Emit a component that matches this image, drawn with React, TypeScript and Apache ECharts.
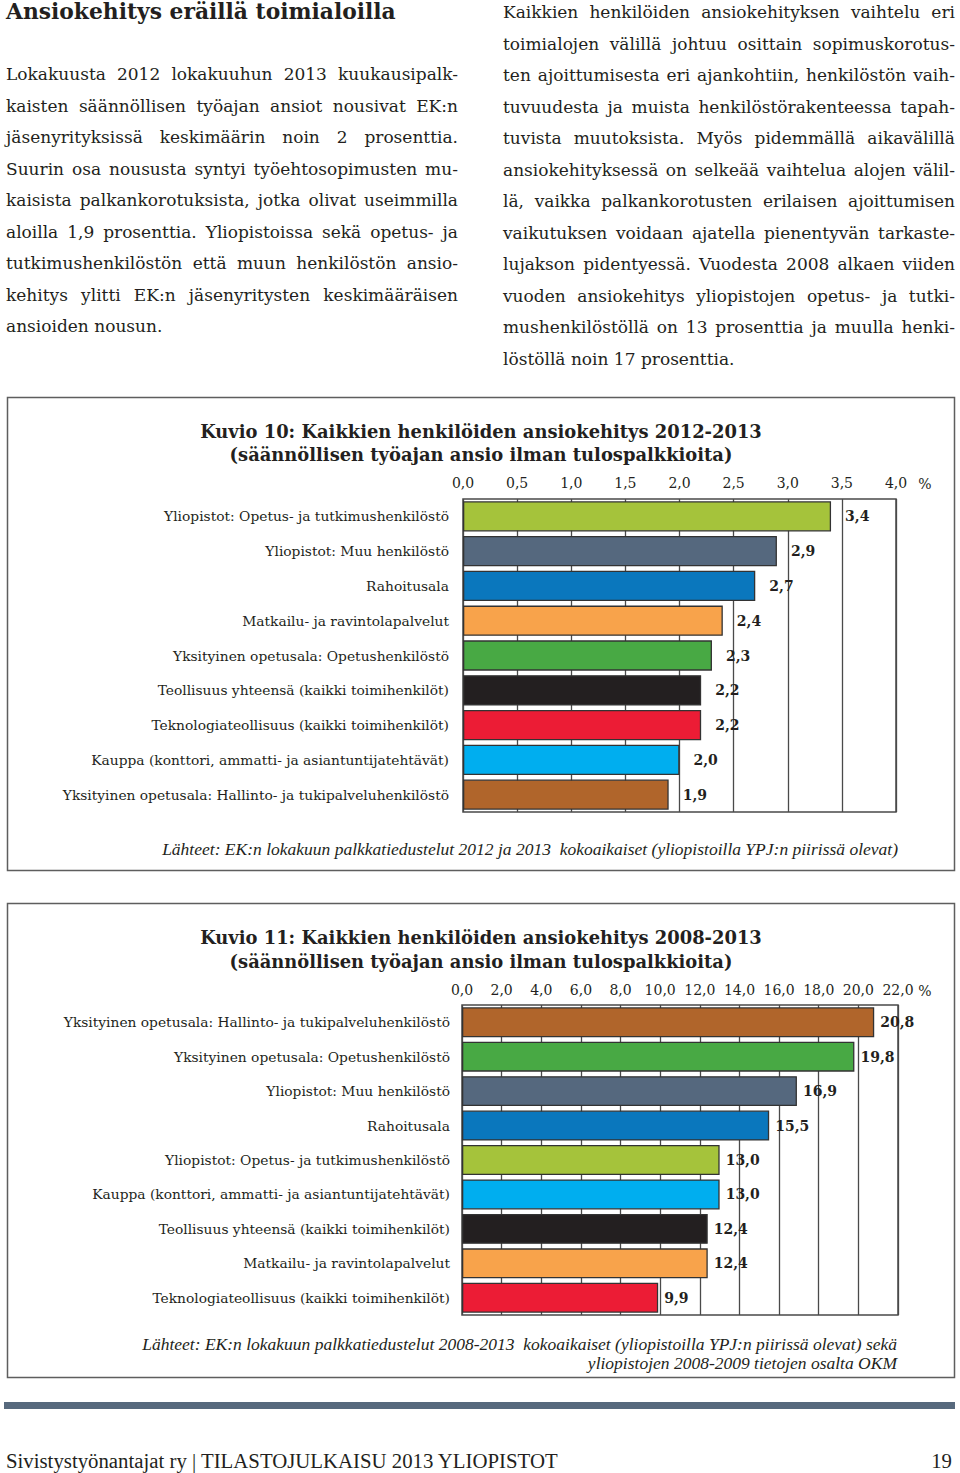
import React, { useEffect, useRef } from "react";
import * as echarts from "echarts";

const heading = "Ansiokehitys eräillä toimialoilla";

const leftLines = [
  "Lokakuusta 2012 lokakuuhun 2013 kuukausipalk-",
  "kaisten säännöllisen työajan ansiot nousivat EK:n",
  "jäsenyrityksissä keskimäärin noin 2 prosenttia.",
  "Suurin osa noususta syntyi työehtosopimusten mu-",
  "kaisista palkankorotuksista, jotka olivat useimmilla",
  "aloilla 1,9 prosenttia. Yliopistoissa sekä opetus- ja",
  "tutkimushenkilöstön että muun henkilöstön ansio-",
  "kehitys ylitti EK:n jäsenyritysten keskimääräisen",
  "ansioiden nousun.",
];

const rightLines = [
  "Kaikkien henkilöiden ansiokehityksen vaihtelu eri",
  "toimialojen välillä johtuu osittain sopimuskorotus-",
  "ten ajoittumisesta eri ajankohtiin, henkilöstön vaih-",
  "tuvuudesta ja muista henkilöstörakenteessa tapah-",
  "tuvista muutoksista. Myös pidemmällä aikavälillä",
  "ansiokehityksessä on selkeää vaihtelua alojen välil-",
  "lä, vaikka palkankorotusten erilaisen ajoittumisen",
  "vaikutuksen voidaan ajatella pienentyvän tarkaste-",
  "lujakson pidentyessä. Vuodesta 2008 alkaen viiden",
  "vuoden ansiokehitys yliopistojen opetus- ja tutki-",
  "mushenkilöstöllä on 13 prosenttia ja muulla henki-",
  "löstöllä noin 17 prosenttia.",
];

const COLORS = {
  yellowGreen: "#a5c33b",
  slate: "#55687e",
  blue: "#0a77bd",
  orange: "#f8a34b",
  green: "#48a944",
  black: "#231f20",
  red: "#ec1c35",
  cyan: "#00aeef",
  brown: "#b0652b",
};

const chart1Title = [
  "Kuvio 10: Kaikkien henkilöiden ansiokehitys 2012-2013",
  "(säännöllisen työajan ansio ilman tulospalkkioita)",
];
const chart1Categories = [
  "Yliopistot: Opetus- ja tutkimushenkilöstö",
  "Yliopistot: Muu henkilöstö",
  "Rahoitusala",
  "Matkailu- ja ravintolapalvelut",
  "Yksityinen opetusala: Opetushenkilöstö",
  "Teollisuus yhteensä (kaikki toimihenkilöt)",
  "Teknologiateollisuus (kaikki toimihenkilöt)",
  "Kauppa (konttori, ammatti- ja asiantuntijatehtävät)",
  "Yksityinen opetusala: Hallinto- ja tukipalveluhenkilöstö",
];
const chart1Values = [3.4, 2.9, 2.7, 2.4, 2.3, 2.2, 2.2, 2.0, 1.9];
const chart1Colors = [
  COLORS.yellowGreen,
  COLORS.slate,
  COLORS.blue,
  COLORS.orange,
  COLORS.green,
  COLORS.black,
  COLORS.red,
  COLORS.cyan,
  COLORS.brown,
];
const chart1AxisMax = 4;
const chart1AxisStep = 0.5;
const chart1Source = [
  "Lähteet: EK:n lokakuun palkkatiedustelut 2012 ja 2013  kokoaikaiset (yliopistoilla YPJ:n piirissä olevat)",
];

const chart2Title = [
  "Kuvio 11: Kaikkien henkilöiden ansiokehitys 2008-2013",
  "(säännöllisen työajan ansio ilman tulospalkkioita)",
];
const chart2Categories = [
  "Yksityinen opetusala: Hallinto- ja tukipalveluhenkilöstö",
  "Yksityinen opetusala: Opetushenkilöstö",
  "Yliopistot: Muu henkilöstö",
  "Rahoitusala",
  "Yliopistot: Opetus- ja tutkimushenkilöstö",
  "Kauppa (konttori, ammatti- ja asiantuntijatehtävät)",
  "Teollisuus yhteensä (kaikki toimihenkilöt)",
  "Matkailu- ja ravintolapalvelut",
  "Teknologiateollisuus (kaikki toimihenkilöt)",
];
const chart2Values = [20.8, 19.8, 16.9, 15.5, 13.0, 13.0, 12.4, 12.4, 9.9];
const chart2Colors = [
  COLORS.brown,
  COLORS.green,
  COLORS.slate,
  COLORS.blue,
  COLORS.yellowGreen,
  COLORS.cyan,
  COLORS.black,
  COLORS.orange,
  COLORS.red,
];
const chart2AxisMax = 22;
const chart2AxisStep = 2;
const chart2Source = [
  "Lähteet: EK:n lokakuun palkkatiedustelut 2008-2013  kokoaikaiset (yliopistoilla YPJ:n piirissä olevat) sekä",
  "yliopistojen 2008-2009 tietojen osalta OKM",
];

const unitLabel = "%";
const footerText = "Sivistystyönantajat ry | TILASTOJULKAISU 2013 YLIOPISTOT";
const pageNumber = "19";

const SERIF = '"DejaVu Serif", serif';
const NARROW = '"Liberation Serif", serif';
const INK = "#231f20";
const fmt = (v: number) => v.toFixed(1).replace(".", ",");

function txt(
  text: string,
  x: number,
  y: number,
  font: string,
  align: string = "center",
  extra: any = {}
) {
  return {
    type: "text",
    x,
    y,
    silent: true,
    ...extra,
    style: {
      text,
      font,
      fill: INK,
      textAlign: align,
      textVerticalAlign: "middle",
      align,
      verticalAlign: "middle",
    },
  };
}

function buildOption() {
  const catAxis = (gridIndex: number, data: string[], margin: number) => ({
    type: "category",
    gridIndex,
    inverse: true,
    data,
    axisLine: { show: false },
    axisTick: { show: false },
    axisLabel: {
      margin,
      fontFamily: SERIF,
      fontSize: 13.8,
      color: INK,
    },
  });
  const valAxis = (gridIndex: number, max: number, step: number, margin: number) => ({
    type: "value",
    gridIndex,
    position: "top",
    min: 0,
    max,
    interval: step,
    axisLine: { show: false },
    axisTick: { show: false },
    axisLabel: {
      margin,
      formatter: (v: number) => fmt(v),
      fontFamily: SERIF,
      fontSize: 14,
      color: INK,
    },
    splitLine: { show: true, lineStyle: { color: "#4a4a4a", width: 1.3 } },
  });
  const bars = (idx: number, values: number[], colors: string[], distance: number) => ({
    type: "bar",
    xAxisIndex: idx,
    yAxisIndex: idx,
    barCategoryGap: "13%",
    data: values.map((v, i) => ({ value: v, itemStyle: { color: colors[i] } })),
    itemStyle: { borderColor: "#333333", borderWidth: 1.3 },
    label: {
      show: true,
      position: "right",
      distance,
      formatter: (p: any) => fmt(p.value),
      fontFamily: SERIF,
      fontWeight: "bold",
      fontSize: 14,
      color: INK,
    },
  });

  const frame = (y: number, h: number) => ({
    type: "rect",
    silent: true,
    shape: { x: 7.5, y, width: 947, height: h },
    style: { fill: "none", stroke: "#5e5e5e", lineWidth: 1.5 },
  });

  const titleFont = `bold 17.9px ${SERIF}`;
  const srcFont = `italic 17.5px ${NARROW}`;

  return {
    animation: false,
    backgroundColor: "#ffffff",
    grid: [
      { left: 463, top: 499, width: 433, height: 313, show: true, borderColor: "#4a4a4a", borderWidth: 1.5 },
      { left: 462, top: 1005, width: 436, height: 310, show: true, borderColor: "#4a4a4a", borderWidth: 1.5 },
    ],
    xAxis: [
      valAxis(0, chart1AxisMax, chart1AxisStep, 9),
      valAxis(1, chart2AxisMax, chart2AxisStep, 8),
    ],
    yAxis: [catAxis(0, chart1Categories, 14), catAxis(1, chart2Categories, 12)],
    series: [
      bars(0, chart1Values, chart1Colors, 14),
      bars(1, chart2Values, chart2Colors, 6),
    ],
    graphic: [
      frame(397.5, 473),
      frame(903.5, 474),
      txt(chart1Title[0], 481, 431, titleFont),
      txt(chart1Title[1], 481, 454, titleFont),
      txt(unitLabel, 925, 484, `14px ${SERIF}`),
      txt(chart1Source[0], 898, 849, srcFont, "right"),
      txt(chart2Title[0], 481, 937, titleFont),
      txt(chart2Title[1], 481, 961, titleFont),
      txt(unitLabel, 925, 991, `14px ${SERIF}`),
      txt(chart2Source[0], 897, 1344, srcFont, "right"),
      txt(chart2Source[1], 897, 1363, srcFont, "right"),
      {
        type: "rect",
        silent: true,
        shape: { x: 4, y: 1402, width: 951, height: 7 },
        style: { fill: "#57697d" },
      },
      txt(footerText, 6, 1460, `20.8px ${NARROW}`, "left"),
      txt(pageNumber, 952, 1460, `20.8px ${NARROW}`, "right"),
    ],
  };
}

function Column({ lines, left, top }: { lines: string[]; left: number; top: number }) {
  return (
    <div
      style={{
        position: "absolute",
        left,
        top,
        width: 452,
        font: `17px/31.5px ${SERIF}`,
        color: INK,
      }}
    >
      {lines.map((l, i) =>
        i === lines.length - 1 ? (
          <div key={i} style={{ height: 31.5, whiteSpace: "nowrap" }}>
            {l}
          </div>
        ) : (
          <div
            key={i}
            style={{
              height: 31.5,
              display: "flex",
              justifyContent: "space-between",
              whiteSpace: "nowrap",
            }}
          >
            {l.split(" ").map((w, j) => (
              <span key={j}>{w}</span>
            ))}
          </div>
        )
      )}
    </div>
  );
}

export default function App() {
  const ref = useRef<HTMLDivElement>(null);
  useEffect(() => {
    if (!ref.current) return;
    const chart = echarts.init(ref.current, null, { renderer: "svg" });
    chart.setOption(buildOption() as any);
    return () => chart.dispose();
  }, []);
  return (
    <div
      style={{
        position: "absolute",
        left: 0,
        top: 0,
        width: 960,
        height: 1473,
        background: "#ffffff",
        overflow: "hidden",
      }}
    >
      <div ref={ref} style={{ position: "absolute", left: 0, top: 0, width: 960, height: 1473 }} />
      <div
        style={{
          position: "absolute",
          left: 6,
          top: 0,
          font: `bold 21.8px/24px ${SERIF}`,
          color: INK,
          whiteSpace: "nowrap",
        }}
      >
        {heading}
      </div>
      <Column lines={leftLines} left={6} top={59} />
      <Column lines={rightLines} left={503} top={-3} />
    </div>
  );
}
